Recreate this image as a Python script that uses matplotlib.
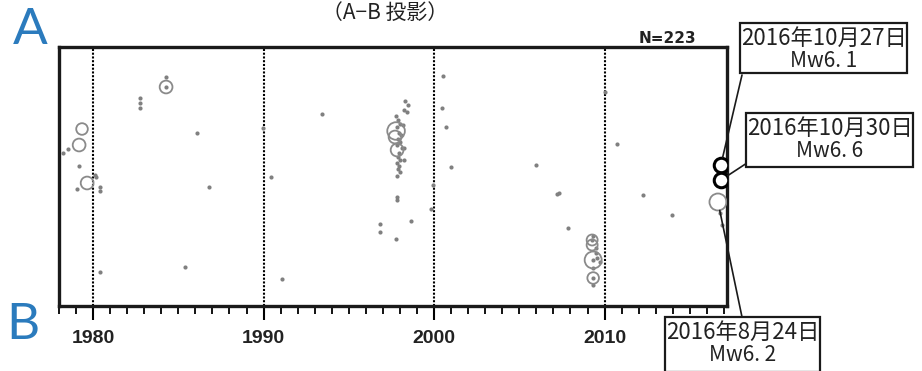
import matplotlib.pyplot as plt
from matplotlib.patches import Rectangle, ConnectionPatch
from matplotlib.ticker import MultipleLocator

plt.rcParams['font.family'] = ['Liberation Sans', 'Noto Sans CJK JP', 'DejaVu Sans']

# small events (year, distance from B in km)
dot_year = [1984.28, 1984.28, 1982.76, 1982.76, 1982.76, 1978.24, 1978.53, 1979.18,
            1979.06, 1980.12, 1980.18, 1980.41, 1980.41, 1980.41, 1985.40, 1986.10,
            1986.80, 1989.97, 1990.44, 1991.08, 1993.43, 1996.83, 1996.83, 1997.77,
            1997.83, 1997.83, 1998.65, 1999.82, 1999.94,
            1998.30, 1998.48, 1998.42, 1998.24, 1997.77,
            1997.89, 1998.01, 1997.83, 1997.95, 1998.06, 1997.89, 1998.01, 1997.83,
            1998.12, 1997.95, 1997.89, 1998.01, 1997.83, 1997.95, 1997.89, 1998.01,
            1997.83, 1998.24, 1998.24, 1998.18,
            2000.53, 2000.47, 2000.70, 2000.99, 2005.98, 2007.21, 2007.33, 2007.86,
            2010.03, 2010.73, 2012.26, 2013.96,
            2009.33, 2009.50, 2009.50, 2009.56, 2009.74, 2009.33, 2009.33, 2009.27,
            2009.33, 2009.33, 2016.77, 2016.89]
dot_dist = [114.5, 109.5, 104.0, 101.5, 99.0, 76.5, 78.5, 70.0,
            58.5, 65.5, 64.5, 59.5, 57.5, 17.0, 19.5, 86.5,
            59.5, 89.0, 64.5, 13.5, 96.0, 41.0, 37.0, 33.5,
            54.5, 53.0, 42.5, 48.5, 60.5,
            102.5, 100.5, 97.0, 98.0, 95.0,
            93.0, 91.0, 89.5, 86.5, 85.5, 83.5, 82.0, 80.5,
            79.0, 76.5, 74.5, 73.0, 71.5, 70.0, 68.5, 67.0,
            65.0, 79.0, 73.0, 90.5,
            115.0, 99.0, 89.5, 69.5, 70.5, 56.0, 56.5, 39.0,
            107.0, 81.0, 55.5, 45.5,
            35.0, 29.0, 26.5, 24.0, 22.0, 19.0, 10.5, 33.0,
            23.0, 14.0, 46.5, 40.5]

# larger events (grey rings), magnitude estimated from ring size
ring_year = [1984.28, 1979.35, 1979.18, 1979.65, 1997.77, 1997.71, 1997.83,
             2009.27, 2009.27, 2009.33, 2009.33, 2016.65]
ring_dist = [109.5, 88.5, 80.5, 61.5, 87.5, 84.5, 78.0,
             33.0, 30.5, 23.0, 14.0, 52.0]
ring_mag = [5.5, 5.3, 5.5, 5.5, 6.3, 5.5, 5.5,
            5.2, 5.2, 6.2, 5.3, 6.2]

# highlighted 2016 events (black rings)
main_year = [2016.82, 2016.83]
main_dist = [70.5, 63.0]

labels = [("2016年10月27日", "Mw6. 1"),
          ("2016年10月30日", "Mw6. 6"),
          ("2016年8月24日", "Mw6. 2")]
label_target = [(2016.82, 70.5), (2016.83, 63.0), (2016.65, 52.0)]

decades = [1980, 1990, 2000, 2010]

W, H = 922, 371


def fp(x, y):
    return x / W, 1 - y / H


fig = plt.figure(figsize=(9.22, 3.71), dpi=100)
ax = fig.add_axes([59 / W, 1 - 306 / H, (727 - 59) / W, (306 - 47) / H])
ax.set_xlim(1978.0, 2017.18)
ax.set_ylim(0, 129.5)

for d in decades:
    ax.axvline(d, color='black', lw=1.5, ls=(0, (1, 0.8)), zorder=1)

ax.scatter(dot_year, dot_dist, s=9, color='#808080', lw=0, zorder=3)
ring_s = [((11 + (m - 5.2) * 6) * 0.72) ** 2 for m in ring_mag]
ax.scatter(ring_year, ring_dist, s=ring_s, facecolor='none', edgecolor='#8a8a8a',
           lw=1.3, zorder=4)
ax.scatter(main_year, main_dist, s=(14.5 * 0.72) ** 2, facecolor='white',
           edgecolor='black', lw=2.2, zorder=5)

for sp in ax.spines.values():
    sp.set_linewidth(2.4)
    sp.set_color('#1a1a1a')

ax.set_yticks([])
ax.xaxis.set_major_locator(MultipleLocator(10))
ax.xaxis.set_minor_locator(MultipleLocator(1))
ax.tick_params(axis='x', which='major', direction='out', length=10, width=1.5,
               pad=7, labelsize=14)
ax.tick_params(axis='x', which='minor', direction='out', length=6, width=1.3)
for t in ax.get_xticklabels():
    t.set_fontweight('bold')
    t.set_color('#222222')

# headings
fig.text(*fp(385, 19), "（A−B 投影）", ha='center', va='baseline', fontsize=15,
         family=['Noto Sans CJK JP', 'DejaVu Sans'], color='#222222')
fig.text(*fp(667, 43), "N=223", ha='center', va='baseline', fontsize=11,
         fontweight='bold', family='DejaVu Sans', color='#222222')
fig.text(*fp(13, 44), "A", ha='left', va='baseline', fontsize=37,
         family='Lato', color='#2b7bbd')
fig.text(*fp(6, 339), "B", ha='left', va='baseline', fontsize=37,
         family='Lato', color='#2b7bbd')

# label boxes
boxes = [(740, 23, 907, 73), (746, 113, 913, 167), (665, 317, 820, 372)]
anchors = [(742, 75), (747, 163), (742, 317)]
shrink = [5.6, 5.6, 6.2]
cjk = ['Noto Sans CJK JP', 'DejaVu Sans']
for (x0, y0, x1, y1), (l1, l2), anc, tgt, sh in zip(boxes, labels, anchors,
                                                    label_target, shrink):
    bx, by = fp(x0, y1)
    fig.patches.append(Rectangle((bx, by), (x1 - x0) / W, (y1 - y0) / H,
                                 transform=fig.transFigure, facecolor='white',
                                 edgecolor='#1a1a1a', lw=1.6, zorder=6))
    cx = (x0 + x1) / 2
    fig.text(*fp(cx, y0 + 15), l1, ha='center', va='center', fontsize=16,
             family=cjk, color='#222222', zorder=7)
    fig.text(*fp(cx, y0 + 38), l2, ha='center', va='center', fontsize=15,
             family=cjk, color='#222222', zorder=7)
    con = ConnectionPatch(xyA=fp(*anc), coordsA=fig.transFigure,
                          xyB=tgt, coordsB=ax.transData,
                          color='#1a1a1a', lw=1.2, shrinkB=sh, zorder=6)
    fig.add_artist(con)

fig.savefig('out.png', dpi=100)
